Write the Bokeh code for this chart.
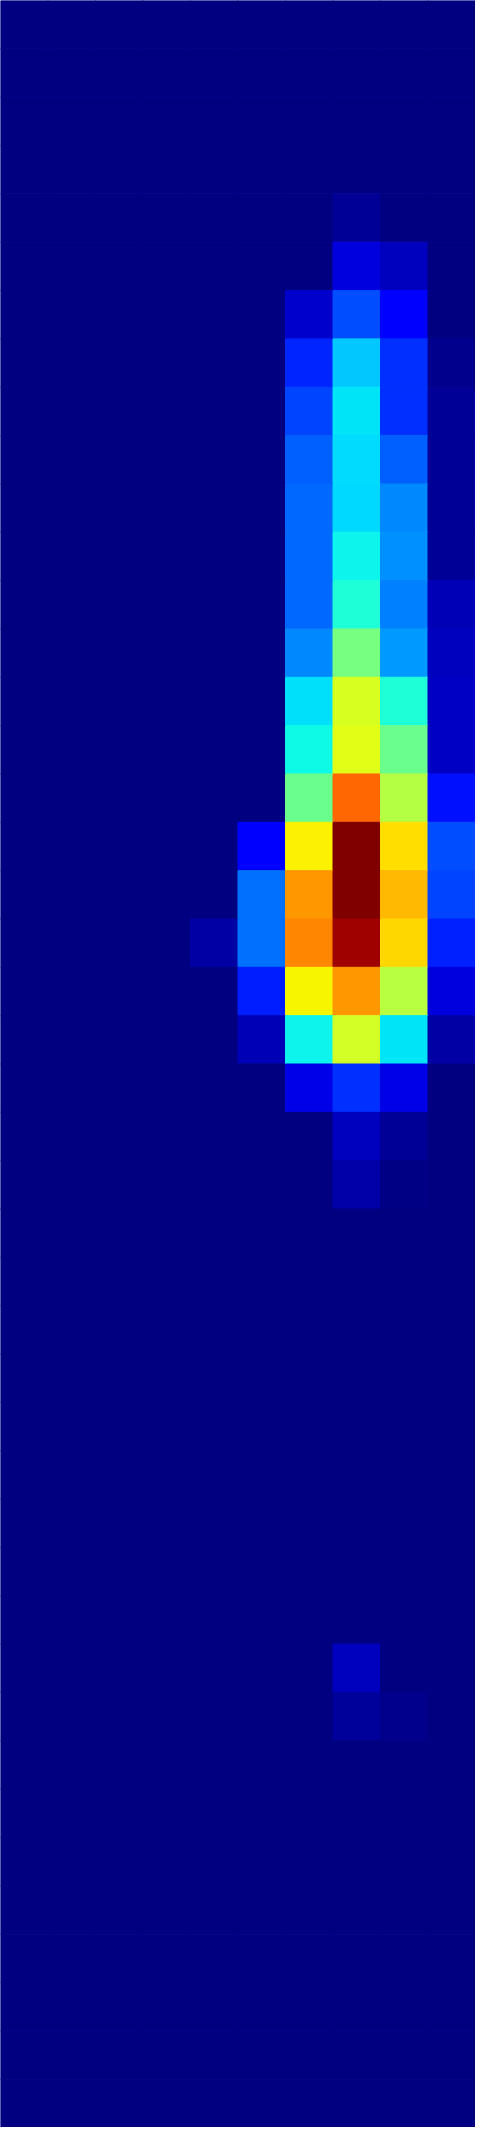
import numpy as np
from bokeh.plotting import figure
from bokeh.models import ColumnDataSource, LinearColorMapper, Range1d
from bokeh.transform import transform
from bokeh.embed import file_html
from bokeh.resources import INLINE

# ---- data: 10 columns x 44 rows heat map, values in % of peak (all other cells 0) ----
n_cols = 10
n_rows = 44
cell_row = [4, 5, 5, 6, 6, 6,
            7, 7, 7, 7, 8, 8, 8, 8, 9, 9, 9, 9, 10, 10, 10, 10, 11, 11, 11, 11,
            12, 12, 12, 12, 13, 13, 13, 13, 14, 14, 14, 14, 15, 15, 15, 15,
            16, 16, 16, 16, 17, 17, 17, 17, 17, 18, 18, 18, 18, 18,
            19, 19, 19, 19, 19, 19, 20, 20, 20, 20, 20, 21, 21, 21, 21, 21,
            22, 22, 22, 23, 23, 24, 24, 34, 35, 35]
cell_col = [7, 7, 8, 6, 7, 8,
            6, 7, 8, 9, 6, 7, 8, 9, 6, 7, 8, 9, 6, 7, 8, 9, 6, 7, 8, 9,
            6, 7, 8, 9, 6, 7, 8, 9, 6, 7, 8, 9, 6, 7, 8, 9,
            6, 7, 8, 9, 5, 6, 7, 8, 9, 5, 6, 7, 8, 9,
            4, 5, 6, 7, 8, 9, 5, 6, 7, 8, 9, 5, 6, 7, 8, 9,
            6, 7, 8, 7, 8, 7, 8, 7, 7, 8]
cell_value = [2.1, 8.3, 5.6, 7.0, 20.3, 11.8,
              16.2, 32.1, 17.5, 1.3, 19.3, 35.0, 17.5, 2.2, 21.9, 34.2, 21.9, 2.2,
              22.7, 33.7, 25.8, 2.2, 22.7, 36.5, 26.6, 2.3,
              22.7, 39.0, 25.0, 4.9, 25.8, 49.6, 27.4, 5.6, 34.7, 61.3, 39.0, 6.2,
              36.9, 62.2, 48.0, 6.2,
              48.0, 79.7, 56.9, 14.1, 11.8, 65.4, 100.0, 67.3, 20.0,
              23.8, 74.7, 100.0, 71.3, 19.2,
              3.5, 23.8, 76.8, 97.2, 68.3, 15.8, 15.6, 65.0, 74.7, 57.2, 8.3,
              4.9, 36.5, 60.3, 35.0, 3.5,
              9.0, 17.5, 9.0, 5.6, 2.1, 3.7, 0.7, 5.6, 2.5, 1.4]

# ---- build full grid ----
grid = np.zeros((n_rows, n_cols))
for r, c, v in zip(cell_row, cell_col, cell_value):
    grid[r, c] = v
rr, cc = np.meshgrid(np.arange(n_rows), np.arange(n_cols), indexing="ij")
src = ColumnDataSource(dict(x=(cc + 0.5).ravel(), y=(rr + 0.5).ravel(), v=grid.ravel()))

# ---- jet palette (matplotlib segment definition) ----
t = np.linspace(0, 1, 256)
red = np.interp(t, [0, 0.35, 0.66, 0.89, 1], [0, 0, 1, 1, 0.5])
green = np.interp(t, [0, 0.125, 0.375, 0.64, 0.91, 1], [0, 0, 1, 1, 0, 0])
blue = np.interp(t, [0, 0.11, 0.34, 0.65, 1], [0.5, 1, 1, 0, 0])
jet = ["#%02x%02x%02x" % (int(round(r * 255)), int(round(g * 255)), int(round(b * 255)))
       for r, g, b in zip(red, green, blue)]
mapper = LinearColorMapper(palette=jet, low=0, high=100)

p = figure(width=475, height=2127, output_backend="svg", toolbar_location=None,
           x_range=Range1d(0, n_cols), y_range=Range1d(n_rows, 0),
           min_border=0, min_border_left=0, min_border_right=0,
           min_border_top=0, min_border_bottom=0)
p.rect(x="x", y="y", width=1, height=1, source=src,
       fill_color=transform("v", mapper), line_color=transform("v", mapper), line_width=1)
p.axis.visible = False
p.grid.visible = False
p.outline_line_color = None
p.background_fill_color = "white"
p.border_fill_color = "white"

open("out.html", "w").write(file_html(p, INLINE))
